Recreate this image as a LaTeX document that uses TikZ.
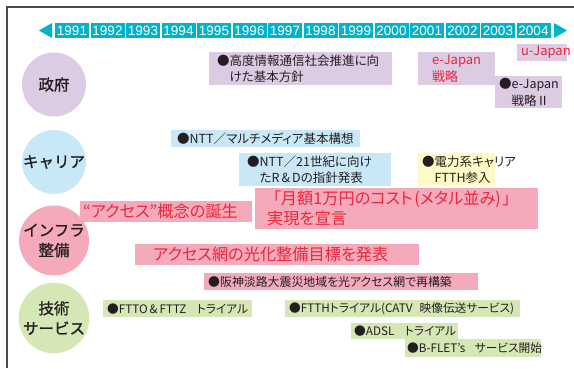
\documentclass[tikz,border=0pt]{standalone}
\usepackage{fontspec}
\setmainfont{Noto Sans CJK JP}[RawFeature=+palt]
\newfontfamily\circfont{Noto Sans CJK JP}[FakeBold=1.2]
\newfontfamily\yearfont{Liberation Sans}
\definecolor{barcyan}{HTML}{00B2CA}
\definecolor{govp}{HTML}{DDCAE3}
\definecolor{carb}{HTML}{C8E8F8}
\definecolor{infp}{HTML}{F4AABA}
\definecolor{tecg}{HTML}{D4E7B4}
\definecolor{yelb}{HTML}{FFF9C5}
\definecolor{redt}{HTML}{E8283C}
\definecolor{darkt}{HTML}{231F20}
\definecolor{framec}{HTML}{4A4A4A}
\newcommand\fsmall{\fontsize{12.5}{16.5}\selectfont}
\newcommand\ftech{\fontsize{11.7}{16}\selectfont}
\newcommand\fredbig{\fontsize{16.2}{20}\selectfont}
\newcommand\fredsm{\fontsize{13}{16.5}\selectfont}
\newcommand\fcirc{\circfont\fontsize{15.5}{20}\selectfont}
\begin{document}
\begin{tikzpicture}[x=1pt,y=-1pt,
  bx/.style={rectangle, inner sep=0, anchor=north west, draw=none},
  tx/.style={anchor=west, align=left, inner sep=0, font=\fsmall, text=darkt},
  ttx/.style={anchor=west, align=left, inner sep=0, font=\ftech, text=darkt},
  rtx/.style={anchor=west, align=left, inner sep=0, font=\fredbig, text=redt},
  rsx/.style={anchor=west, align=left, inner sep=0, font=\fredsm, text=redt},
  circ/.style={circle, minimum size=64pt, inner sep=0, font=\fcirc, align=center, text=darkt},
  yr/.style={rectangle, fill=barcyan, minimum width=34pt, minimum height=15pt, inner sep=0, text=white, font=\yearfont\fontsize{13.5}{14}\selectfont}]
\useasboundingbox (0,0) rectangle (574,368);
\fill[white] (0,0) rectangle (574,368);
% frame
\draw[framec, line width=1.2pt] (7,368) -- (7,7) -- (574,7);
% year bar
\fill[barcyan] (52,23) -- (52,38) -- (39,30.5) -- cycle;
\fill[barcyan] (554,23) -- (554,38) -- (567,30.5) -- cycle;
\foreach \i in {0,...,13} {
  \pgfmathtruncatemacro\yrv{1991+\i}
  \node[yr] (y\i) at ({72+\i*35.5},30.5) {\yrv};
}
% circles
\node[circ, fill=govp] (cgov) at (54,84.5) {政府};
\node[circ, fill=carb] (ccar) at (54,162) {キャリア};
\node[circ, fill=infp] (cinf) at (54,240.5) {インフラ\\整備};
\node[circ, fill=tecg] (ctec) at (54,318) {技術\\サービス};
% government
\node[bx, fill=govp, minimum width=183pt, minimum height=33pt] (g1) at (209,52) {};
\node[tx] (g1t) at ([xshift=8pt]g1.west) {●高度情報通信社会推進に向\\\hspace{1em}けた基本方針};
\node[bx, fill=govp, minimum width=77pt, minimum height=33pt] (g2) at (418,52) {};
\node[rsx] (g2t) at ([xshift=14pt]g2.west) {e-Japan\\戦略};
\node[bx, fill=govp, minimum width=50pt, minimum height=17pt] (g3) at (517,44) {};
\node[rsx] (g3t) at ([xshift=4pt]g3.west) {u-Japan};
\node[bx, fill=govp, minimum width=67pt, minimum height=32pt] (g4) at (495,76) {};
\node[tx] (g4t) at ([xshift=4pt]g4.west) {●e-Japan\\\hspace{1em}戦略Ⅱ};
% carrier
\node[bx, fill=carb, minimum width=189pt, minimum height=17pt] (c1) at (171,130) {};
\node[tx] (c1t) at ([xshift=6pt]c1.west) {●NTT／マルチメディア基本構想};
\node[bx, fill=carb, minimum width=152pt, minimum height=33pt] (c2) at (239,153) {};
\node[tx] (c2t) at ([xshift=8pt]c2.west) {●NTT／21世紀に向け\\\hspace{1em}たR\,\&\,Dの指針発表};
\node[bx, fill=yelb, minimum width=77pt, minimum height=33pt] (c3) at (418,153) {};
\node[tx] (c3t) at ([xshift=4pt]c3.west) {●電力系キャリア\\\hspace{1em}FTTH参入};
% infrastructure
\node[bx, fill=infp, minimum width=172pt, minimum height=21pt] (i1) at (80,201) {};
\node[rtx] (i1t) at ([xshift=3pt]i1.west) {“アクセス”概念の誕生};
\node[bx, fill=infp, minimum width=283pt, minimum height=41pt] (i2) at (255,188) {};
\node[rtx] (i2t) at ([xshift=12pt]i2.west) {\hspace{0.35em}「月額1万円のコスト\hspace{0.1em}(メタル並み)\hspace{0.1em}」\\実現を宣言};
\node[bx, fill=infp, minimum width=284pt, minimum height=21pt] (i3) at (135,244) {};
\node[rtx] (i3t) at ([xshift=18pt]i3.west) {アクセス網の光化整備目標を発表};
\node[bx, fill=infp, minimum width=274pt, minimum height=17pt] (i4) at (204,273) {};
\node[tx, font=\fontsize{11.9}{16}\selectfont] (i4t) at ([xshift=4pt]i4.west) {●阪神淡路大震災地域を光アクセス網で再構築};
% technology
\node[bx, fill=tecg, minimum width=149pt, minimum height=17pt] (t1) at (103,300) {};
\node[ttx] (t1t) at ([xshift=4pt]t1.west) {●FTTO\,\&\,FTTZ\hspace{0.9em}トライアル};
\node[bx, fill=tecg, minimum width=235pt, minimum height=17pt] (t2) at (285,300) {};
\node[ttx] (t2t) at ([xshift=4pt]t2.west) {●FTTHトライアル(CATV\hspace{0.6em}映像伝送サービス)};
\node[bx, fill=tecg, minimum width=107pt, minimum height=16pt] (t3) at (351,323) {};
\node[ttx] (t3t) at ([xshift=3pt]t3.west) {●ADSL\hspace{0.9em}トライアル};
\node[bx, fill=tecg, minimum width=136pt, minimum height=18pt] (t4) at (405,339) {};
\node[ttx] (t4t) at ([xshift=2pt]t4.west) {●B-FLET's\hspace{0.8em}サービス開始};
\end{tikzpicture}
\end{document}
